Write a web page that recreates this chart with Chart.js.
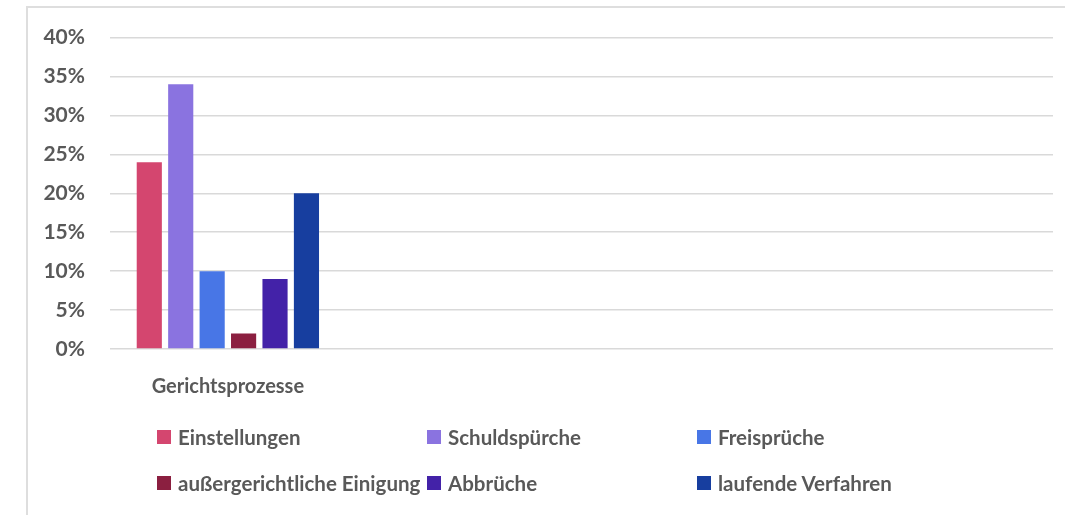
<!DOCTYPE html>
<html>
<head>
<meta charset="utf-8">
<script src="https://cdn.jsdelivr.net/npm/chart.js@4.4.1/dist/chart.umd.min.js"></script>
<style>
  html, body { margin: 0; padding: 0; background: #fff; }
  body { width: 1065px; height: 515px; position: relative; overflow: hidden; font-family: Lato, "Open Sans", sans-serif; }
  #frame { position: absolute; left: 26px; top: 6px; width: 1100px; height: 600px; border-top: 2px solid #dedede; border-left: 2px solid #dedede; }
  #wrap { position: absolute; left: 0; top: 0; width: 1065px; height: 515px; }
  #legend { position: absolute; left: 157px; top: 424px; display: grid; grid-template-columns: 270px 270px 270px; grid-auto-rows: 46px; }
  .item { display: flex; align-items: center; height: 26px; font-weight: 700; font-size: 20.5px; color: #595959; white-space: nowrap; }
  .box { width: 14px; height: 14px; margin-right: 7px; flex: none; }
</style>
</head>
<body>
<div id="frame"></div>
<div id="wrap"><canvas id="c" width="1065" height="515"></canvas></div>
<div id="legend"></div>
<script>
const categories = ['Gerichtsprozesse', '', '', ''];
const seriesNames = ['Einstellungen', 'Schuldspürche', 'Freisprüche', 'außergerichtliche Einigung', 'Abbrüche', 'laufende Verfahren'];
const seriesValues = [24, 34, 10, 2, 9, 20];
const seriesColors = ['#d4466f', '#8a73e0', '#4876e6', '#8b1f40', '#4322a8', '#173e9f'];
const yTicks = [0, 5, 10, 15, 20, 25, 30, 35, 40];

const datasets = seriesNames.map((name, i) => ({
  label: name,
  data: categories.map((c, j) => j === 0 ? seriesValues[i] : null),
  backgroundColor: seriesColors[i],
  borderWidth: 0,
  barPercentage: 0.8,
  categoryPercentage: 0.8
}));

new Chart(document.getElementById('c'), {
  type: 'bar',
  data: { labels: categories, datasets },
  options: {
    responsive: false,
    animation: false,
    devicePixelRatio: 1,
    layout: { padding: { top: 35, right: 12, left: 0, bottom: 116 } },
    plugins: { legend: { display: false }, tooltip: { enabled: false } },
    scales: {
      x: {
        grid: { display: false },
        border: { display: false },
        ticks: { color: '#595959', font: { family: 'Lato', weight: 'bold', size: 20 }, padding: 18 },
        afterFit: (s) => { s.height = 50; }
      },
      y: {
        min: 0, max: 40,
        afterBuildTicks: (s) => { s.ticks = yTicks.map(v => ({ value: v })); },
        grid: { color: '#d9d9d9', lineWidth: 1.5, drawTicks: false },
        border: { display: false },
        ticks: { color: '#595959', font: { family: 'Lato', weight: 'bold', size: 21 }, padding: 25, callback: v => v + '%' },
        afterFit: (s) => { s.width = 110; }
      }
    }
  }
});

const lg = document.getElementById('legend');
seriesNames.forEach((n, i) => {
  const d = document.createElement('div');
  d.className = 'item';
  d.innerHTML = '<span class="box" style="background:' + seriesColors[i] + '"></span><span></span>';
  d.lastChild.textContent = n;
  lg.appendChild(d);
});
</script>
</body>
</html>
